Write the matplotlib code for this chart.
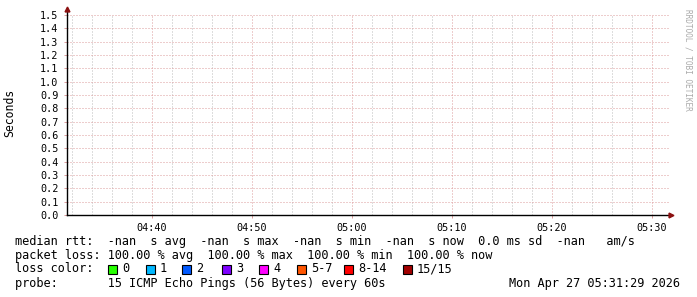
import numpy as np
import matplotlib
matplotlib.use('Agg')
import matplotlib.pyplot as plt
from matplotlib.patches import Rectangle

# time axis in minutes after 04:00
t_start = 31.5
t_end = 91.7
xticks = [40, 50, 60, 70, 80, 90]
xlabels = ['04:40', '04:50', '05:00', '05:10', '05:20', '05:30']
yticks = [0.0, 0.1, 0.2, 0.3, 0.4, 0.5, 0.6, 0.7, 0.8, 0.9, 1.0, 1.1, 1.2, 1.3, 1.4, 1.5]

# no measurements: every value unknown
times = [40, 50, 60, 70, 80, 90]
median_rtt = [np.nan, np.nan, np.nan, np.nan, np.nan, np.nan]

loss_labels = ['0', '1', '2', '3', '4', '5-7', '8-14', '15/15']
loss_colors = ['#26ff00', '#00b8ff', '#0059ff', '#7e00ff', '#ff00ff', '#ff5500', '#ff0000', '#a10000']

line_rtt = 'median rtt:  -nan  s avg  -nan  s max  -nan  s min  -nan  s now  0.0 ms sd  -nan   am/s'
line_loss = 'packet loss: 100.00 % avg  100.00 % max  100.00 % min  100.00 % now'
line_probe = 'probe:       15 ICMP Echo Pings (56 Bytes) every 60s'
stamp = 'Mon Apr 27 05:31:29 2026'

W, H = 697, 297
mono = 'DejaVu Sans Mono'
pink = '#dc9c9c'
grey = '#bdbdbd'
arrow_red = '#8b1010'

fig = plt.figure(figsize=(W / 100, H / 100), dpi=100)
fig.patch.set_facecolor('white')
ax = fig.add_axes([67 / W, (H - 215) / H, (669 - 67) / W, 200 / H])

ax.plot(times, median_rtt, color='#00aa00', lw=1)

ax.set_xlim(t_start, t_end)
ax.set_ylim(0, 1.5)
ax.set_xticks(xticks)
ax.set_xticklabels(xlabels)
ax.set_xticks(np.arange(32, 92, 2), minor=True)
ax.set_yticks(yticks)
ax.set_yticklabels(['%.1f' % v for v in yticks])

for lab in ax.get_xticklabels() + ax.get_yticklabels():
    lab.set_family(mono)
    lab.set_fontsize(7.3)

ax.tick_params(axis='both', which='major', length=2, width=0.7, color=pink, pad=4)
ax.tick_params(axis='x', which='minor', length=0)

dots = (0, (1, 2))
ax.grid(True, axis='x', which='minor', color=grey, lw=0.72, ls=dots)
ax.grid(True, axis='x', which='major', color=pink, lw=0.72, ls=dots)
ax.grid(True, axis='y', which='major', color=pink, lw=0.72, ls=dots)
ax.set_axisbelow(True)

for s in ['top', 'right']:
    ax.spines[s].set_visible(False)
for s in ['left', 'bottom']:
    ax.spines[s].set_color('black')
    ax.spines[s].set_linewidth(1.0)
    ax.spines[s].set_zorder(5)
ax.spines['left'].set_bounds(0, 1.53)

# axis arrow heads
ax.plot([0], [1.03], marker='^', ms=3.5, color=arrow_red, mec=arrow_red,
        transform=ax.transAxes, clip_on=False, zorder=6)
ax.plot([1.003], [0], marker='>', ms=3.5, color=arrow_red, mec=arrow_red,
        transform=ax.transAxes, clip_on=False, zorder=6)

fig.text(10 / W, 1 - 113 / H, 'Seconds', rotation=90, family=mono, fontsize=8.3,
         ha='center', va='center')
fig.text(688 / W, 1 - 60 / H, 'RRDTOOL / TOBI OETIKER', rotation=-90, family=mono,
         fontsize=5.6, color='#aaaaaa', ha='center', va='center')

fs = 8.55
fig.text(15 / W, 1 - 241 / H, line_rtt, family=mono, fontsize=fs, va='center')
fig.text(15 / W, 1 - 255 / H, line_loss, family=mono, fontsize=fs, va='center')
fig.text(15 / W, 1 - 269 / H, 'loss color:', family=mono, fontsize=fs, va='center')
fig.text(15 / W, 1 - 283 / H, line_probe, family=mono, fontsize=fs, va='center')
fig.text(680 / W, 1 - 283 / H, stamp, family=mono, fontsize=fs, va='center', ha='right')

# loss colour legend boxes
box_x = [108, 146, 182, 222, 259, 297, 344, 403]
for x0, lab, col in zip(box_x, loss_labels, loss_colors):
    fig.patches.append(Rectangle((x0 / W, 1 - 273.5 / H), 9 / W, 9 / H, transform=fig.transFigure,
                                 facecolor=col, edgecolor='black', lw=0.8))
    fig.text((x0 + 14) / W, 1 - 269 / H, lab, family=mono, fontsize=fs, va='center')

fig.savefig('out.png', dpi=100)
